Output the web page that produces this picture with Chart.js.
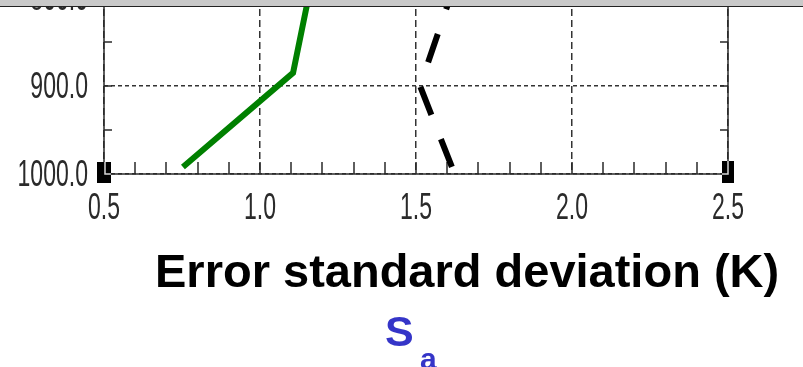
<!DOCTYPE html>
<html>
<head>
<meta charset="utf-8">
<script src="https://cdn.jsdelivr.net/npm/chart.js@4.4.1/dist/chart.umd.min.js"></script>
<style>
  html, body { margin: 0; padding: 0; background: #fff; overflow: hidden; }
  body { width: 803px; height: 367px; position: relative; }
  #wrap { position: absolute; left: 0; top: -30px; width: 803px; height: 400px; }
  #bar { position: absolute; left: 0; top: 0; width: 803px; height: 6px; background: #c9c9c9; border-bottom: 1.5px solid #222; }
</style>
</head>
<body>
<div id="wrap"><canvas id="profile" width="803" height="400"></canvas></div>
<div id="bar"></div>
<script>
// axis ticks (pressure in hPa, error in K)
const pressureTicks = [800, 900, 1000];
const errTicks = [0.5, 1.0, 1.5, 2.0, 2.5];

// retrieval error profile (green)
const retrP = [992, 885, 800];
const retrErr = [0.753, 1.106, 1.155];

// a priori error profile (dashed)
const priorP = [992, 900, 800];
const priorErr = [1.615, 1.513, 1.609];

const xTitle = 'Error standard deviation (K)';

const tickFont = "36px 'Liberation Sans', Arial, sans-serif";
const squeeze = 0.64;

function toPoints(xs, ps) {
    return xs.map((v, i) => ({ x: v, y: ps[i] }));
}

// frame, inward ticks, corner marks and squeezed tick labels
const frame = {
    id: 'frame',
    beforeDatasetsDraw(chart) {
        const { ctx, chartArea: a, scales: { x, y } } = chart;
        ctx.save();
        ctx.strokeStyle = '#2a2a2a';
        ctx.lineWidth = 1.5;
        ctx.beginPath();
        for (let i = 6; i < 25; i++) {
            const px = Math.round(x.getPixelForValue(i / 10));
            ctx.moveTo(px, a.bottom);
            ctx.lineTo(px, a.bottom - 12);
        }
        for (let p = 850; p < 1000; p += 50) {
            const py = Math.round(y.getPixelForValue(p));
            ctx.moveTo(a.left, py);
            ctx.lineTo(a.left + 8, py);
            ctx.moveTo(a.right, py);
            ctx.lineTo(a.right - 8, py);
        }
        ctx.stroke();
        ctx.strokeRect(a.left, a.top, a.right - a.left, a.bottom - a.top);

        ctx.fillStyle = '#000';
        ctx.fillRect(a.left - 7, a.bottom - 12, 14, 21);
        ctx.fillRect(a.right - 6, a.bottom - 13, 12, 22);
        ctx.strokeStyle = '#d8d8d8';
        ctx.beginPath();
        ctx.moveTo(a.left + 1, a.bottom - 12);
        ctx.lineTo(a.left + 1, a.bottom);
        ctx.lineTo(a.left + 7, a.bottom);
        ctx.moveTo(a.right, a.bottom - 13);
        ctx.lineTo(a.right, a.bottom);
        ctx.lineTo(a.right - 6, a.bottom);
        ctx.stroke();

        ctx.fillStyle = '#2a2a2a';
        ctx.font = tickFont;
        ctx.textBaseline = 'alphabetic';
        x.ticks.forEach(t => {
            ctx.save();
            ctx.translate(x.getPixelForValue(t.value), a.bottom + 45);
            ctx.scale(squeeze, 1);
            ctx.textAlign = 'center';
            ctx.fillText(t.value.toFixed(1), 0, 0);
            ctx.restore();
        });
        y.ticks.forEach(t => {
            ctx.save();
            ctx.translate(88, y.getPixelForValue(t.value) + 12);
            ctx.scale(squeeze, 1);
            ctx.textAlign = 'right';
            ctx.fillText(t.value.toFixed(1), 0, 0);
            ctx.restore();
        });

        ctx.textAlign = 'left';
        ctx.fillStyle = '#000';
        ctx.font = "bold 47px 'Liberation Sans', Arial, sans-serif";
        ctx.fillText(xTitle, 155, 317);
        ctx.fillStyle = '#3535c8';
        ctx.font = "bold 43px 'Liberation Sans', Arial, sans-serif";
        ctx.fillText('S', 385, 376);
        ctx.font = "bold 30px 'Liberation Sans', Arial, sans-serif";
        ctx.fillText('a', 420, 399);
        ctx.restore();
    }
};

const ctx = document.getElementById('profile').getContext('2d');
const profile = new Chart(ctx, {
    type: 'scatter',
    data: {
        datasets: [{
            label: 'retrieval',
            data: toPoints(retrErr, retrP),
            showLine: true,
            borderColor: '#008000',
            borderWidth: 6,
            borderJoinStyle: 'miter',
            borderCapStyle: 'butt',
            pointRadius: 0
        }, {
            label: 'S_a',
            data: toPoints(priorErr, priorP),
            showLine: true,
            borderColor: '#000',
            borderWidth: 6,
            borderDash: [30, 26],
            borderJoinStyle: 'miter',
            borderCapStyle: 'butt',
            pointRadius: 0
        }]
    },
    options: {
        responsive: false,
        animation: false,
        layout: { padding: { left: 104, right: 75, top: 28, bottom: 196 } },
        plugins: { legend: { display: false }, tooltip: { enabled: false } },
        scales: {
            x: {
                type: 'linear',
                min: errTicks[0],
                max: errTicks[errTicks.length - 1],
                afterBuildTicks: axis => { axis.ticks = errTicks.map(v => ({ value: v })); },
                afterFit: axis => { axis.height = 0; },
                ticks: { display: false },
                grid: { color: '#333', lineWidth: 1.5, drawTicks: false },
                border: { display: false, dash: [7, 4] }
            },
            y: {
                type: 'linear',
                reverse: true,
                min: pressureTicks[0],
                max: pressureTicks[pressureTicks.length - 1],
                afterBuildTicks: axis => { axis.ticks = pressureTicks.map(v => ({ value: v })); },
                afterFit: axis => { axis.width = 0; },
                ticks: { display: false },
                grid: { color: '#333', lineWidth: 1.5, drawTicks: false },
                border: { display: false, dash: [4, 3] }
            }
        }
    },
    plugins: [frame]
});
</script>
</body>
</html>
